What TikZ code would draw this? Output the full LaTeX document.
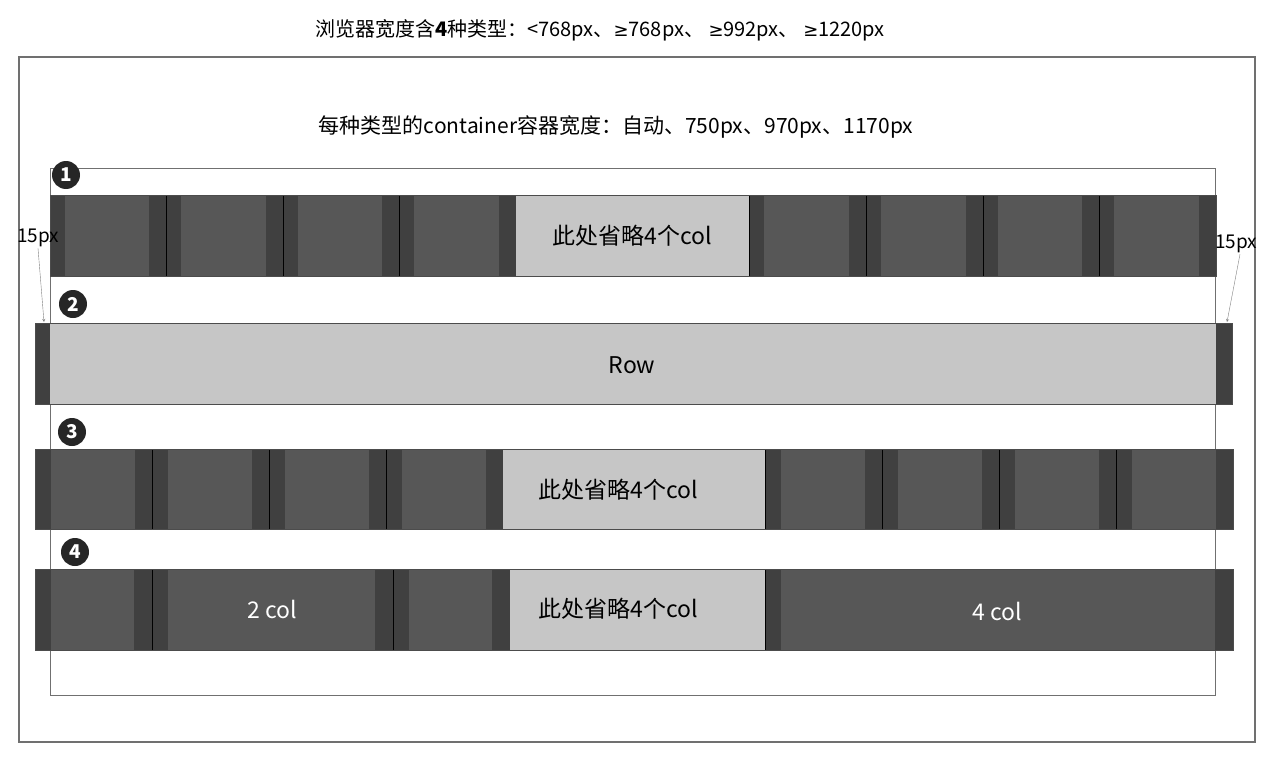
\documentclass[tikz,border=0pt]{standalone}
\usepackage{fontspec}
\setmainfont{Noto Sans CJK SC}
\newfontfamily\symfont{DejaVu Sans}
\definecolor{padgray}{HTML}{404040}
\definecolor{colgray}{HTML}{575757}
\definecolor{rowgray}{HTML}{C6C6C6}
\definecolor{framegray}{HTML}{707070}

\begin{document}
\begin{tikzpicture}[x=1pt, y=-1pt,
        padbox/.style={fill=padgray, draw=black, line width=0.5pt},
        skipbox/.style={fill=rowgray},
        rowedge/.style={draw=black!70, line width=0.6pt},
        badge/.style={circle, fill=black!85, text=white, inner sep=0pt, minimum size=28pt,
            font=\bfseries\fontsize{19}{19}\selectfont},
        rowtext/.style={font=\fontsize{23}{23}\selectfont},
        pxlabel/.style={font=\fontsize{19}{19}\selectfont, inner sep=1pt}]
        \useasboundingbox (0,0) rectangle (1284,760);

        % Draw browser window and container
        \draw[framegray, line width=1.2pt] (19,57) rectangle (1255,742);
        \draw[framegray, line width=0.8pt] (50,168) rectangle (1215,695);

        % Add titles
        \node[font=\fontsize{20}{20}\selectfont] (title) at (600,30)
            {浏览器宽度含\textbf{4}种类型：<768px、{\symfont\fontsize{18}{18}\selectfont ≥}768px、 {\symfont\fontsize{18}{18}\selectfont ≥}992px、 {\symfont\fontsize{18}{18}\selectfont ≥}1220px};
        \node[font=\fontsize{21}{21}\selectfont] (subtitle) at (616,127)
            {每种类型的container容器宽度：自动、750px、970px、1170px};

        % Draw row 1: cols inside container
        \foreach \a/\b in {50/166,166/283,283/399,399/516,749/866,866/983,983/1099,1099/1216} {
            \draw[padbox] (\a,195) rectangle (\b,276);
            \fill[colgray] (\a+15,195) rectangle (\b-17,276);
        }
        \fill[skipbox] (516,195) rectangle (749,276);
        \draw[rowedge] (50,195) rectangle (1216,276);
        \node[rowtext] (skipa) at (632,236) {此处省略4个col};

        % Draw row 2: row with negative margin
        \fill[padgray] (35,323) rectangle (50,404);
        \fill[rowgray] (50,323) rectangle (1216,404);
        \fill[padgray] (1216,323) rectangle (1232,404);
        \draw[rowedge] (35,323) rectangle (1232,404);
        \node[rowtext] (rowlbl) at (632,365) {Row};

        % Draw row 3: cols inside row
        \foreach \a/\b in {35/152,152/269,269/386,386/503,765/882,882/999,999/1116,1116/1233} {
            \draw[padbox] (\a,449) rectangle (\b,529);
            \fill[colgray] (\a+16,449) rectangle (\b-17,529);
        }
        \fill[skipbox] (503,449) rectangle (765,529);
        \draw[rowedge] (35,449) rectangle (1233,529);
        \node[rowtext] (skipb) at (618,490) {此处省略4个col};

        % Draw row 4: cols with span
        \foreach \a/\b in {35/152,152/393,393/510,765/1233} {
            \draw[padbox] (\a,569) rectangle (\b,650);
            \fill[colgray] (\a+16,569) rectangle (\b-18,650);
        }
        \fill[skipbox] (510,569) rectangle (765,650);
        \draw[rowedge] (35,569) rectangle (1233,650);
        \node[rowtext] (skipc) at (618,609) {此处省略4个col};
        \node[rowtext, text=white] (twocol) at (272,609) {2 col};
        \node[rowtext, text=white] (fourcol) at (997,611) {4 col};

        % Add number badges
        \node[badge] (n1) at (66,175) {1};
        \node[badge] (n2) at (73,304) {2};
        \node[badge] (n3) at (72,432) {3};
        \node[badge] (n4) at (75,552) {4};

        % Draw padding arrows
        \node[pxlabel] (padl) at (38,238) {15px};
        \node[pxlabel] (padr) at (1236,244) {15px};
        \coordinate (tipl) at (44,322);
        \coordinate (tipr) at (1227,322);
        \draw[->, >=stealth, gray, thin] (padl.south) -- (tipl);
        \draw[->, >=stealth, gray, thin] ([xshift=4pt]padr.south) -- (tipr);
    \end{tikzpicture}
\end{document}
